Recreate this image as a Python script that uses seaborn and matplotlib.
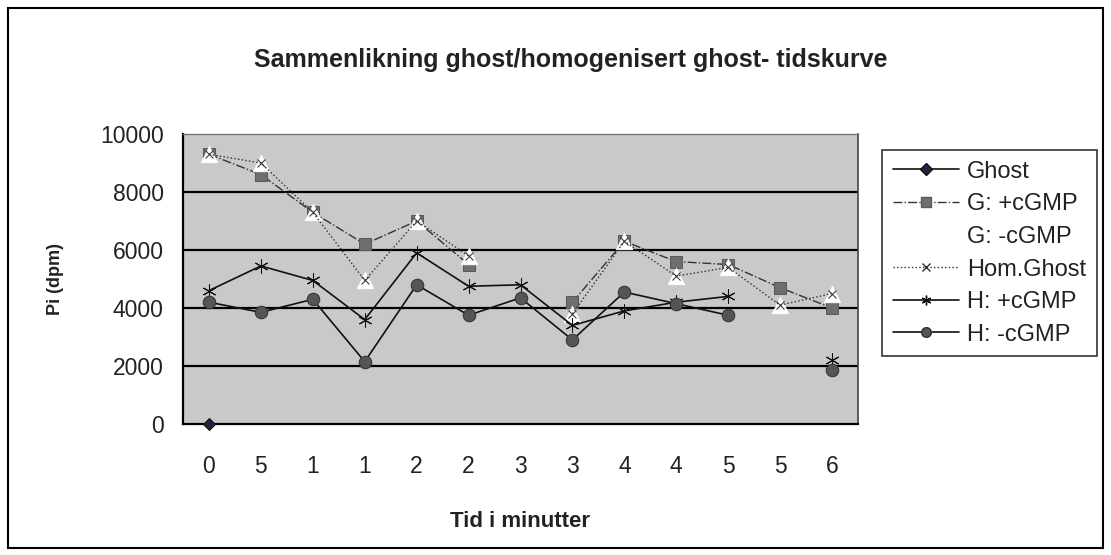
import numpy as np
import pandas as pd
import matplotlib
matplotlib.use("Agg")
import matplotlib.pyplot as plt
from matplotlib.lines import Line2D
from matplotlib.patches import Rectangle
import seaborn as sns

# ---- data ----
x_labels = ["0", "5", "1", "1", "2", "2", "3", "3", "4", "4", "5", "5", "6"]
ghost      = [0, np.nan, np.nan, np.nan, np.nan, np.nan, np.nan, np.nan, np.nan, np.nan, np.nan, np.nan, np.nan]
g_plus     = [9300, 8600, 7300, 6200, 7000, 5500, np.nan, 4200, 6300, 5600, 5500, 4700, 4000]
g_minus    = [9300, 9000, 7300, 4950, 7000, 5800, np.nan, 3800, 6300, 5100, 5400, 4100, 4500]
hom_ghost  = [9300, 9000, 7300, 4950, 7000, 5800, np.nan, 3800, 6300, 5100, 5400, 4100, 4500]
h_plus     = [4600, 5450, 4950, 3600, 5900, 4750, 4800, 3400, 3900, 4200, 4400, np.nan, 2200]
h_minus    = [4200, 3850, 4300, 2150, 4800, 3750, 4350, 2900, 4550, 4150, 3750, np.nan, 1850]

series_names = ["Ghost", "G: +cGMP", "G: -cGMP", "Hom.Ghost", "H: +cGMP", "H: -cGMP"]

sns.set_theme(style="white")
plt.rcParams['font.family'] = ['Liberation Sans', 'DejaVu Sans']

fig = plt.figure(figsize=(11.11, 5.55), dpi=100)
ax = fig.add_axes([183/1111, 1-424/555, (858-183)/1111, (424-134)/555])
ax.set_facecolor("#c9c9c9")

xs = np.arange(len(x_labels))

styles = [
    dict(color="#111111", lw=1.2, ls="-", marker="D", ms=6, mfc="#222244", mec="#111111"),
    dict(color="#333333", lw=1.0, ls="-.", marker="s", ms=9, mfc="#6e6e6e", mec="#5a5a5a"),
    dict(color="none", lw=0, ls="", marker="^", ms=12, mfc="white", mec="white"),
    dict(color="#2e2e2e", lw=1.0, ls=":", marker="x", ms=6, mfc="#333333", mec="#333333"),
    dict(color="#111111", lw=1.2, ls="-", marker=(6, 2, 0), ms=10, mfc="#111111", mec="#111111"),
    dict(color="#111111", lw=1.2, ls="-", marker="o", ms=9, mfc="#555555", mec="#333333"),
]
all_series = [ghost, g_plus, g_minus, hom_ghost, h_plus, h_minus]

def draw(values, st, z):
    vals = np.asarray(values, dtype=float)
    df = pd.DataFrame({"x": xs, "y": vals})
    ok = ~np.isnan(vals)
    df["run"] = np.cumsum(~ok)
    df = df[ok]
    for _, seg in df.groupby("run"):
        if st["ls"] == "" or st["lw"] == 0:
            sns.scatterplot(data=seg, x="x", y="y", ax=ax, marker=st["marker"],
                            s=st["ms"]**2, color=st["mfc"], edgecolor=st["mec"],
                            linewidth=0.5, zorder=z, legend=False)
        else:
            sns.lineplot(data=seg, x="x", y="y", ax=ax, color=st["color"], lw=st["lw"],
                         linestyle=st["ls"], marker=st["marker"], markersize=st["ms"],
                         markerfacecolor=st["mfc"], markeredgecolor=st["mec"],
                         zorder=z, legend=False, estimator=None, sort=False, clip_on=False)

for i, (vals, st) in enumerate(zip(all_series, styles)):
    draw(vals, st, 3 + i)

# axes styling
ax.set_xlim(-0.5, len(x_labels) - 0.5)
ax.set_ylim(0, 10000)
ax.set_yticks([0, 2000, 4000, 6000, 8000, 10000])
ax.set_yticklabels(["0", "2000", "4000", "6000", "8000", "10000"], fontsize=16.5)
ax.set_xticks(xs)
ax.set_xticklabels(x_labels, fontsize=16.5)
ax.set_xticks(np.arange(len(x_labels) + 1) - 0.5, minor=True)
ax.tick_params(axis="x", which="major", length=0, pad=22, colors="#222222")
ax.tick_params(axis="x", which="minor", length=6, width=1.2, direction="out", color="black")
ax.tick_params(axis="y", which="major", length=6, width=1.2, direction="out", color="black", pad=8, colors="#222222")
for y in [2000, 4000, 6000, 8000]:
    ax.axhline(y, color="black", lw=1.6, zorder=2)
for s in ["left", "bottom"]:
    ax.spines[s].set_color("black")
    ax.spines[s].set_linewidth(1.6)
ax.spines["top"].set_color("#777777")
ax.spines["top"].set_linewidth(1.0)
ax.spines["right"].set_color("#444444")
ax.spines["right"].set_linewidth(1.2)
ax.grid(False)

ax.set_xlabel("Tid i minutter", fontsize=16, fontweight="bold", labelpad=24, color="#222222")
ax.set_ylabel("Pi (dpm)", fontsize=13, fontweight="bold", labelpad=26, color="#222222")

fig.text(571/1111, 1 - 60/555, "Sammenlikning ghost/homogenisert ghost- tidskurve",
         ha="center", va="center", fontsize=18, fontweight="bold", color="#222222")

# legend
handles = []
for name, st in zip(series_names, styles):
    handles.append(Line2D([0], [0], color=(st["color"] if st["color"] != "none" else "white"),
                          lw=max(st["lw"], 1.0), ls=(st["ls"] if st["ls"] else "-"),
                          marker=st["marker"], markersize=min(st["ms"], 7),
                          markerfacecolor=st["mfc"], markeredgecolor=st["mec"]))
leg = fig.legend(handles, series_names, loc="upper left",
                 bbox_to_anchor=(882/1111, 1 - 150/555), fontsize=17,
                 frameon=True, fancybox=False, handlelength=2.8, handletextpad=0.35,
                 labelspacing=0.45, borderpad=0.45, borderaxespad=0)
leg.get_frame().set_edgecolor("black")
leg.get_frame().set_linewidth(1.2)
for t in leg.get_texts():
    t.set_color("#222222")

# outer chart border
fig.patches.append(Rectangle((8/1111, 1 - 548/555), (1103-8)/1111, (548-8)/555,
                             transform=fig.transFigure, fill=False, edgecolor="black",
                             lw=1.5))

fig.savefig("out.png", dpi=100, facecolor="white")
